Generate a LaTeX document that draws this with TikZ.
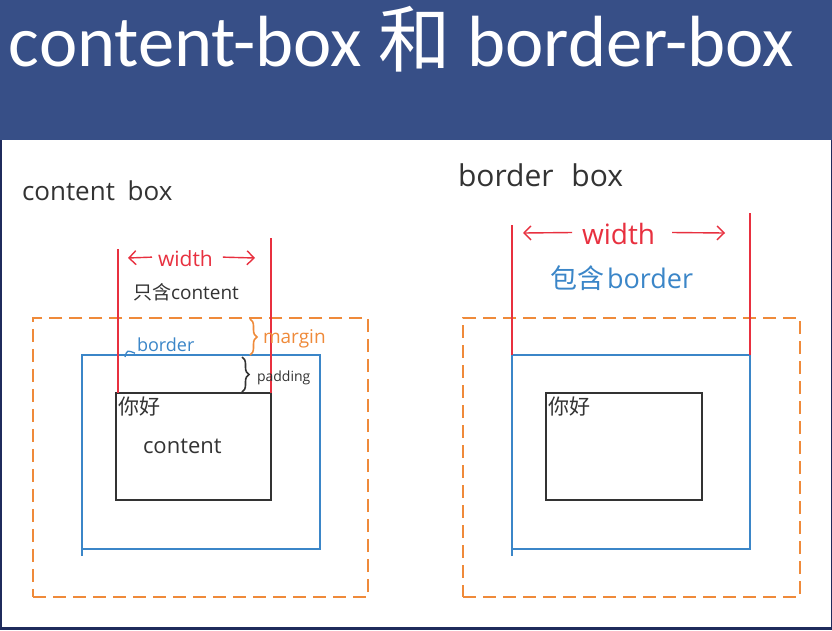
\documentclass[tikz,border=0pt]{standalone}
\usepackage{fontspec}
\usetikzlibrary{arrows.meta,decorations.pathreplacing}
\setmainfont{Open Sans}
\newfontfamily\titlefont{Carlito}
\newfontfamily\cjk{Noto Sans CJK SC}
\definecolor{hdr}{HTML}{374F87}
\definecolor{frm}{HTML}{1F2B5C}
\definecolor{myred}{HTML}{E8303F}
\definecolor{myblue}{HTML}{3B86C8}
\definecolor{myorange}{HTML}{EF8A3A}
\definecolor{myblack}{HTML}{333333}
\tikzset{
  lbl/.style={inner sep=0pt, outer sep=0pt},
  redline/.style={draw=myred, line width=1.4pt},
  blueline/.style={draw=myblue, line width=1.8pt},
  blackline/.style={draw=myblack, line width=1.5pt},
  orangedash/.style={draw=myorange, line width=1.6pt, dash pattern=on 13pt off 7pt},
  redarrow/.style={draw=myred, line width=1.4pt, -{Straight Barb[length=7pt,width=14pt]}},
  bracebox/.style={decorate, decoration={brace, amplitude=7pt}, line width=1.6pt},
}
\begin{document}
\begin{tikzpicture}[x=1pt,y=-1pt]
\useasboundingbox (0,0) rectangle (832,630);
% background and frame
\fill[white] (0,0) rectangle (832,630);
\fill[hdr] (0,0) rectangle (832,140);
\fill[frm] (0,140) rectangle (1.6,630);
\fill[frm] (830.5,140) rectangle (832,630);
\fill[frm] (0,627) rectangle (832,630);
\node[lbl, anchor=base west, text=white] (title) at (9,66)
  {\titlefont\fontsize{72.5}{72.5}\selectfont content-box {\cjk 和} border-box};

% ---------------- left: content box ----------------
\node[lbl, anchor=base west, text=myblack] (t1) at (22,200) {\fontsize{26}{26}\selectfont content\hspace{6pt} box};
\node[lbl, orangedash, minimum width=335pt, minimum height=279pt, anchor=north west] (m1) at (33,318) {};
\node[lbl, blueline, minimum width=238pt, minimum height=194pt, anchor=north west] (b1) at (82,355) {};
\node[lbl, blackline, minimum width=155pt, minimum height=107pt, anchor=north west] (c1) at (116,393) {};
\coordinate (b1ext) at ([yshift=-7pt]b1.south west);
\draw[blueline] (b1.south west) -- (b1ext);
% red width lines
\coordinate (r1a) at (118,249);
\coordinate (r1b) at (118,393);
\coordinate (r1c) at (271,238);
\coordinate (r1d) at (271,393);
\draw[redline] (r1a) -- (r1b);
\draw[redline] (r1c) -- (r1d);
\node[lbl, anchor=base west, text=myred] (w1) at (158,266) {\fontsize{21}{21}\selectfont width};
\coordinate (w1l) at (128,258);
\coordinate (w1r) at (255,258);
\draw[redarrow] ([xshift=-6pt,yshift=1pt]w1.west) -- (w1l);
\draw[redarrow] ([xshift=10pt,yshift=1pt]w1.east) -- (w1r);
\node[lbl, anchor=base west, text=myblack] (only) at (133,299) {\fontsize{19}{19}\selectfont{\cjk 只含}content};
% border label with hook
\node[lbl, anchor=base west, text=myblue] (bl) at (137,351) {\fontsize{18}{18}\selectfont border};
\coordinate (hook) at (125,357);
\draw[myblue, line width=1.3pt] (hook) .. controls (127,350) .. ([xshift=-2pt,yshift=-2pt]bl.south west);
% margin brace
\coordinate (mb1) at (250,319);
\coordinate (mb2) at (250,355);
\draw[bracebox, draw=myorange] (mb1) -- (mb2);
\node[lbl, anchor=base west, text=myorange] (mg) at (263,343) {\fontsize{19}{19}\selectfont margin};
% padding brace
\coordinate (pb1) at (242,357);
\coordinate (pb2) at (242,392);
\draw[bracebox, draw=myblack] (pb1) -- (pb2);
\node[lbl, anchor=base west, text=myblack] (pd) at (257,381) {\fontsize{14}{14}\selectfont padding};
% content texts
\node[lbl, anchor=north west, text=myblack] (nh1) at ([xshift=2pt,yshift=-4pt]c1.north west) {\cjk\fontsize{21}{21}\selectfont 你好};
\node[lbl, anchor=base west, text=myblack] (ct) at (143,453) {\fontsize{22}{22}\selectfont content};

% ---------------- right: border box ----------------
\node[lbl, anchor=base west, text=myblack] (t2) at (458,186) {\fontsize{30}{30}\selectfont border\hspace{10pt} box};
\node[lbl, orangedash, minimum width=337pt, minimum height=279pt, anchor=north west] (m2) at (463,318) {};
\node[lbl, blueline, minimum width=238pt, minimum height=194pt, anchor=north west] (b2) at (512,355) {};
\node[lbl, blackline, minimum width=156pt, minimum height=107pt, anchor=north west] (c2) at (546,393) {};
\coordinate (b2ext) at ([yshift=-7pt]b2.south west);
\draw[blueline] (b2.south west) -- (b2ext);
\coordinate (r2a) at (512,225);
\coordinate (r2c) at (750,213);
\draw[redline] (r2a) -- (b2.north west);
\draw[redline] (r2c) -- (b2.north east);
\node[lbl, anchor=base west, text=myred] (w2) at (582,244) {\fontsize{28}{28}\selectfont width};
\coordinate (w2l) at (523,233);
\coordinate (w2r) at (725,233);
\draw[redarrow] ([xshift=-10pt,yshift=1pt]w2.west) -- (w2l);
\draw[redarrow] ([xshift=17pt,yshift=1pt]w2.east) -- (w2r);
\node[lbl, anchor=base west, text=myblue] (inc) at (550,288) {\fontsize{27}{27}\selectfont{\cjk 包含}\hspace{3pt}border};
\node[lbl, anchor=north west, text=myblack] (nh2) at ([xshift=2pt,yshift=-4pt]c2.north west) {\cjk\fontsize{21}{21}\selectfont 你好};
\end{tikzpicture}
\end{document}
